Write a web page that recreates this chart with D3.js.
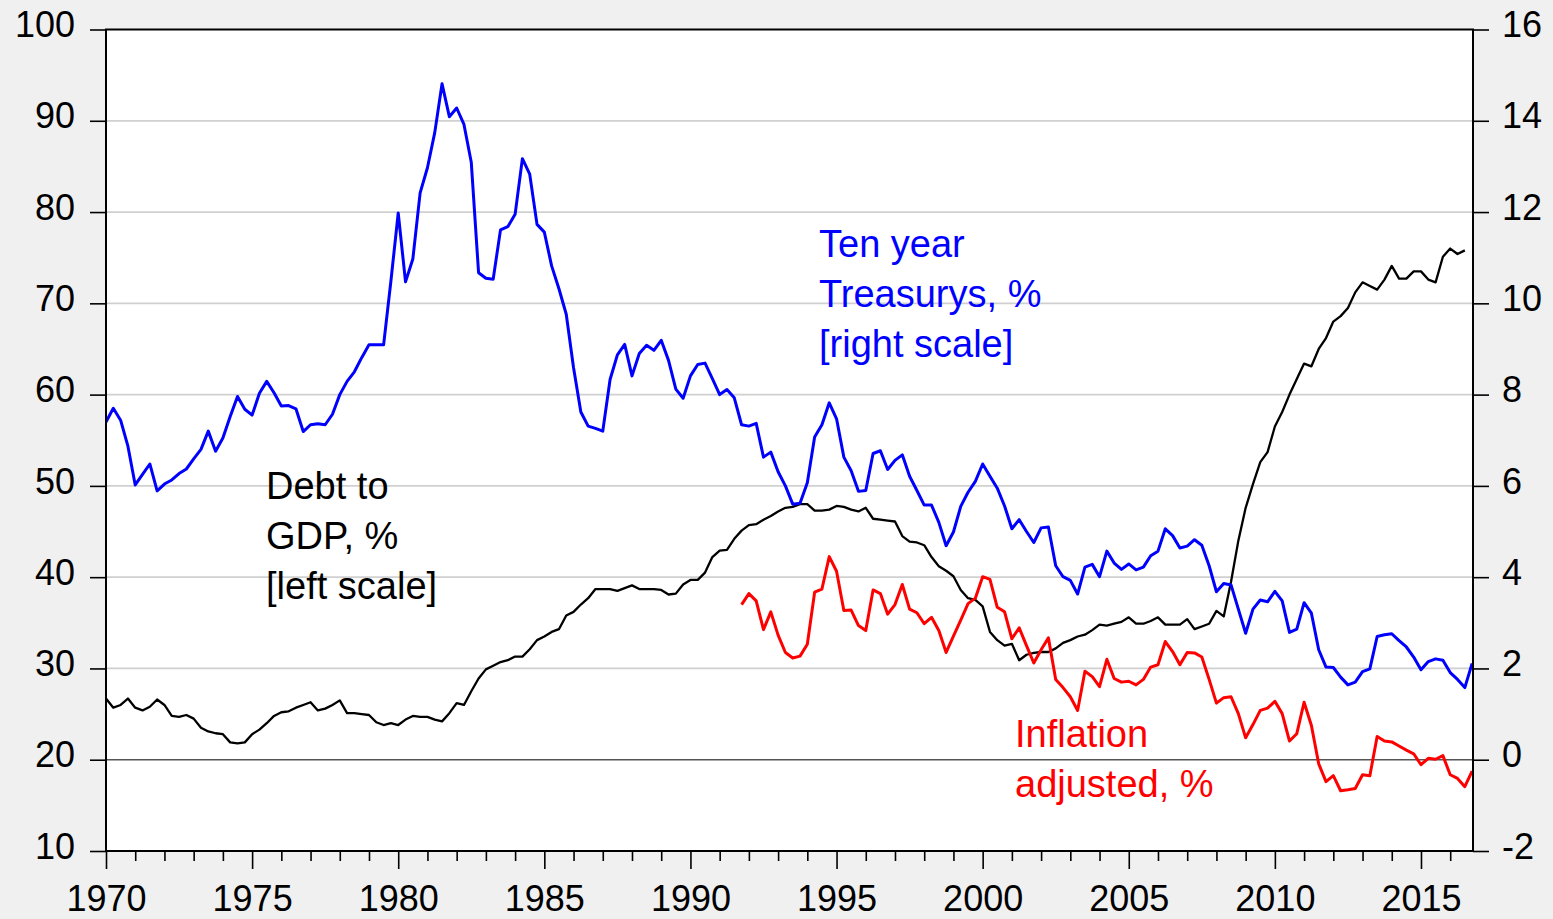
<!DOCTYPE html>
<html>
<head>
<meta charset="utf-8">
<script src="https://cdn.jsdelivr.net/npm/d3@7"></script>
<style>
  body { margin: 0; background: #f0f0f0; }
  svg { display: block; font-family: "Liberation Sans", Arial, sans-serif; }
</style>
</head>
<body>
<svg id="chart" width="1553" height="919"></svg>
<script>
// quarterly data, first quarter of each series given by its start year
var startTen = 1970
var tenYear = [
  7.40, 7.70, 7.44, 6.87,  6.02, 6.25, 6.48, 5.89,  6.04, 6.13, 6.27, 6.37,
  6.59, 6.80, 7.20, 6.76,  7.05, 7.52, 7.96, 7.68,  7.55, 8.03, 8.29, 8.04,
  7.75, 7.76, 7.69, 7.19,  7.34, 7.36, 7.34, 7.57,  8.00, 8.29, 8.50, 8.81,
  9.09, 9.09, 9.09, 10.49,
  11.98, 10.47, 10.97, 12.42,  12.97, 13.74, 14.81, 14.09,  14.28, 13.92, 13.09, 10.67,
  10.55, 10.53, 11.61, 11.68,  11.95, 13.17, 12.83, 11.73,  11.56, 10.82, 10.32, 9.76,
  8.59, 7.62, 7.31, 7.26,  7.20, 8.33, 8.87, 9.10,  8.41, 8.90, 9.08, 8.97,
  9.19, 8.75, 8.12, 7.92,
  8.41, 8.66, 8.69, 8.35,  8.00, 8.11, 7.93, 7.34,  7.31, 7.37, 6.63, 6.74,
  6.31, 6.00, 5.60, 5.62,  6.07, 7.07, 7.34, 7.82,  7.47, 6.63, 6.33, 5.88,
  5.90, 6.71, 6.77, 6.36,  6.56, 6.68, 6.21, 5.90,  5.58, 5.58, 5.20, 4.69,
  4.99, 5.55, 5.86, 6.10,
  6.48, 6.21, 5.95, 5.56,  5.06, 5.26, 5.00, 4.76,  5.08, 5.10, 4.25, 4.01,
  3.93, 3.63, 4.22, 4.28,  4.01, 4.57, 4.31, 4.17,  4.29, 4.16, 4.22, 4.47,
  4.57, 5.06, 4.91, 4.64,  4.68, 4.82, 4.70, 4.25,  3.68, 3.86, 3.83, 3.30,
  2.77, 3.30, 3.50, 3.46,
  3.69, 3.48, 2.79, 2.86,  3.44, 3.21, 2.41, 2.03,  2.02, 1.81, 1.64, 1.70,
  1.93, 1.99, 2.70, 2.74,  2.76, 2.61, 2.47, 2.25,  1.97, 2.15, 2.21, 2.18,
  1.91, 1.76, 1.58, 2.11
]

var startDebt = 1970
var debtGdp = [
  26.7, 25.7, 26.0, 26.7,  25.7, 25.4, 25.8, 26.6,  26.0, 24.8, 24.7, 24.9,
  24.5, 23.5, 23.1, 22.9,  22.8, 21.9, 21.8, 21.9,  22.8, 23.3, 24.0, 24.8,
  25.2, 25.3, 25.7, 26.0,  26.3, 25.4, 25.6, 26.0,  26.5, 25.1, 25.1, 25.0,
  24.9, 24.1, 23.8, 24.0,
  23.8, 24.4, 24.8, 24.7,  24.7, 24.4, 24.2, 25.1,  26.2, 26.0, 27.5, 28.9,
  29.9, 30.3, 30.7, 30.9,  31.3, 31.3, 32.1, 33.1,  33.5, 34.0, 34.3, 35.8,
  36.2, 37.0, 37.7, 38.7,  38.7, 38.7, 38.5, 38.8,  39.1, 38.7, 38.7, 38.7,
  38.6, 38.1, 38.2, 39.2,
  39.7, 39.7, 40.5, 42.2,  42.9, 43.0, 44.2, 45.1,  45.7, 45.8, 46.3, 46.7,
  47.2, 47.6, 47.7, 48.0,  48.0, 47.3, 47.3, 47.4,  47.8, 47.7, 47.4, 47.2,
  47.6, 46.4, 46.3, 46.2,  46.1, 44.5, 43.9, 43.8,  43.5, 42.2, 41.2, 40.7,
  40.1, 38.6, 37.7, 37.5,
  36.8, 34.0, 33.1, 32.5,  32.7, 30.9, 31.5, 31.7,  31.8, 31.8, 32.2, 32.8,
  33.1, 33.5, 33.7, 34.2,  34.8, 34.7, 34.9, 35.1,  35.6, 34.9, 34.9, 35.2,
  35.6, 34.8, 34.8, 34.8,  35.4, 34.3, 34.6, 34.9,  36.3, 35.7, 39.5, 44.0,
  47.6, 50.2, 52.6, 53.7,
  56.5, 58.1, 60.0, 61.7,  63.4, 63.1, 65.0, 66.2,  68.0, 68.6, 69.5, 71.2,
  72.3, 71.9, 71.5, 72.6,  74.1, 72.7, 72.7, 73.5,  73.5, 72.6, 72.3, 75.1,
  76.0, 75.4, 75.8
]

var startReal = 1991.75
var realRate = [
  3.40,
  3.64, 3.48, 2.85, 3.24,  2.73, 2.35, 2.23, 2.27,  2.53, 3.67, 3.74, 4.45,
  4.13, 3.27, 3.28, 2.94,  2.83, 3.72, 3.64, 3.19,  3.40, 3.84, 3.30, 3.22,
  2.98, 3.12, 2.83, 2.35,  2.71, 3.06, 3.42, 3.54,
  4.01, 3.95, 3.34, 3.24,  2.65, 2.89, 2.50, 2.12,  2.41, 2.67, 1.76, 1.58,
  1.38, 1.08, 1.94, 1.82,  1.60, 2.20, 1.78, 1.70,  1.72, 1.64, 1.76, 2.03,
  2.08, 2.59, 2.37, 2.08,  2.35, 2.34, 2.25, 1.76,  1.24, 1.36, 1.38, 1.01,
  0.48, 0.77, 1.08, 1.13,
  1.28, 1.01, 0.41, 0.57,  1.26, 0.75, -0.09, -0.48,  -0.35, -0.68, -0.66, -0.63,
  -0.33, -0.35, 0.51, 0.41,  0.39, 0.30, 0.21, 0.13,  -0.11, 0.03, 0.01, 0.09,
  -0.33, -0.41, -0.59, -0.25
]

var yearTicks = [1970, 1975, 1980, 1985, 1990, 1995, 2000, 2005, 2010, 2015]
var leftTicks = [10, 20, 30, 40, 50, 60, 70, 80, 90, 100]
var rightTicks = [-2, 0, 2, 4, 6, 8, 10, 12, 14, 16]

var svg = d3.select("#chart")
var L = 106, R = 1473, T = 29.5, B = 851

var x = d3.scaleLinear().domain([1970, 2016.78]).range([L, R])
var yL = d3.scaleLinear().domain([10, 100]).range([B, T])
var yR = d3.scaleLinear().domain([-2, 16]).range([B, T])

function toPoints(start, vals) {
  return vals.map(function(v, i) { return [start + i / 4, v] })
}

svg.append("rect").attr("width", 1553).attr("height", 919).attr("fill", "#f0f0f0")
svg.append("rect").attr("x", L).attr("y", T).attr("width", R - L).attr("height", B - T)
  .attr("fill", "#ffffff")

// gridlines
svg.append("g").selectAll("line")
  .data(leftTicks.filter(function(d) { return d > 10 && d < 100 }))
  .enter().append("line")
  .attr("x1", L).attr("x2", R)
  .attr("y1", function(d) { return yL(d) }).attr("y2", function(d) { return yL(d) })
  .attr("stroke", function(d) { return d == 20 ? "#555555" : "#d0d0d0" })
  .attr("stroke-width", function(d) { return d == 20 ? 1.4 : 1.8 })

// lines
svg.append("clipPath").attr("id", "clip").append("rect")
  .attr("x", L).attr("y", T).attr("width", R - L).attr("height", B - T)

var plot = svg.append("g").attr("clip-path", "url(#clip)")

plot.append("path").datum(toPoints(startDebt, debtGdp))
  .attr("d", d3.line().x(function(d) { return x(d[0]) }).y(function(d) { return yL(d[1]) }))
  .attr("fill", "none").attr("stroke", "#000000").attr("stroke-width", 2.3)
  .attr("stroke-linejoin", "round")

plot.append("path").datum(toPoints(startTen, tenYear))
  .attr("d", d3.line().x(function(d) { return x(d[0]) }).y(function(d) { return yR(d[1]) }))
  .attr("fill", "none").attr("stroke", "#0000ff").attr("stroke-width", 3)
  .attr("stroke-linejoin", "round")

plot.append("path").datum(toPoints(startReal, realRate))
  .attr("d", d3.line().x(function(d) { return x(d[0]) }).y(function(d) { return yR(d[1]) }))
  .attr("fill", "none").attr("stroke", "#ff0000").attr("stroke-width", 3)
  .attr("stroke-linejoin", "round")

// axes
var plain = function(d) { return String(d) }
var gl = svg.append("g").attr("transform", "translate(" + L + ",0)")
  .call(d3.axisLeft(yL).tickValues(leftTicks).tickFormat(plain).tickSize(16).tickPadding(15))
var gr = svg.append("g").attr("transform", "translate(" + R + ",0)")
  .call(d3.axisRight(yR).tickValues(rightTicks).tickFormat(plain).tickSize(16).tickPadding(13))
var gb = svg.append("g").attr("transform", "translate(0," + B + ")")
  .call(d3.axisBottom(x).tickValues(yearTicks).tickFormat(plain).tickSize(18))
var gm = svg.append("g").attr("transform", "translate(0," + B + ")")
  .call(d3.axisBottom(x).tickValues(d3.range(1971, 2017).filter(function(d) { return d % 5 != 0 }))
    .tickFormat("").tickSize(10))

;[gl, gr, gb, gm].forEach(function(g) {
  g.select(".domain").remove()
  g.selectAll("line").attr("stroke", "#000").attr("stroke-width", 1.6)
  g.selectAll("text").attr("font-size", 36).attr("fill", "#000")
    .attr("font-family", "'Liberation Sans', Arial, sans-serif")
})
gl.selectAll("text").attr("dy", "0.2em")
gr.selectAll("text").attr("dy", "0.2em")
gb.selectAll("text").attr("y", 60).attr("dy", 0)

svg.append("rect").attr("x", L).attr("y", T).attr("width", R - L).attr("height", B - T)
  .attr("fill", "none").attr("stroke", "#000").attr("stroke-width", 2)

// annotations
function note(lines, x0, y0, color) {
  svg.append("g").selectAll("text").data(lines).enter().append("text")
    .attr("x", x0).attr("y", function(d, i) { return y0 + i * 50.2 })
    .attr("font-size", 38).attr("fill", color).text(function(d) { return d })
}
note(["Debt to", "GDP, %", "[left scale]"], 266, 498.5, "#000000")
note(["Ten year", "Treasurys, %", "[right scale]"], 819, 257, "#0000ff")
note(["Inflation", "adjusted, %"], 1015, 746.5, "#ff0000")
</script>
</body>
</html>
